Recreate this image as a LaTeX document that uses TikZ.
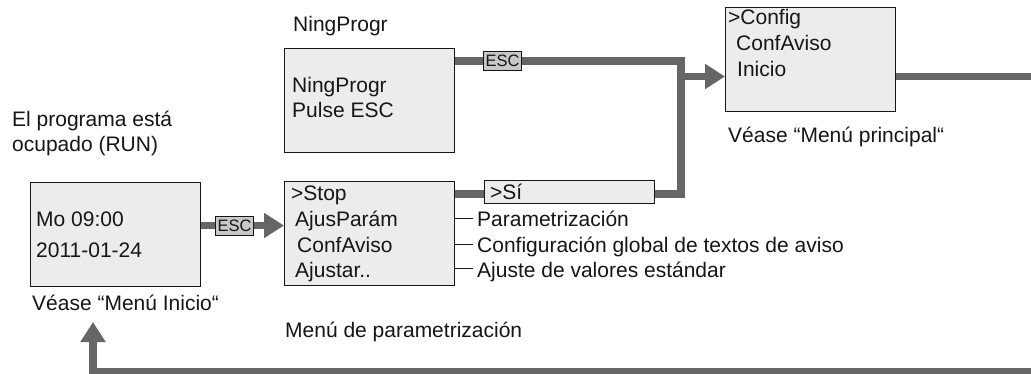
\documentclass[tikz,border=0pt]{standalone}
\usepackage{fontspec}
\setmainfont{Liberation Sans}
\usetikzlibrary{arrows.meta}
\definecolor{conncol}{HTML}{666666}
\definecolor{boxfill}{HTML}{ECECEC}
\definecolor{escfill}{HTML}{C8C8C8}
\definecolor{txt}{HTML}{161616}
\tikzset{
  lcd/.style={draw=txt, line width=1.1pt, fill=boxfill, minimum width=170pt, minimum height=104pt, inner sep=0pt, anchor=north west},
  sibox/.style={draw=txt, line width=1.1pt, fill=boxfill, minimum width=170pt, minimum height=23pt, inner sep=0pt, anchor=north west},
  esckey/.style={draw=txt, line width=0.9pt, fill=escfill, minimum width=38pt, minimum height=19pt, inner sep=0pt, font=\fontsize{16.5}{18}\selectfont, text=txt},
  lbl/.style={anchor=base west, inner sep=0pt, text=txt, font=\fontsize{21}{24}\selectfont},
  conn/.style={draw=conncol, line width=7.5pt, line join=miter},
  arr/.style={-{Triangle[length=20pt,width=24pt]}},
  tick/.style={draw=txt, line width=1.3pt}
}
\begin{document}
\begin{tikzpicture}[x=1pt,y=-1pt]
\clip (0,0) rectangle (1031,374);
\fill[white] (0,0) rectangle (1031,374);
% boxes
\node[lcd] (ning) at (284,48) {};
\node[lcd] (config) at (725,7) {};
\node[lcd] (mo) at (30,182) {};
\node[lcd] (stop) at (284,181) {};
\node[sibox] (si) at (484,180) {};
% esc keys
\node[esckey] (esca) at (502.5,61) {ESC};
\node[esckey] (escb) at (234.5,225.5) {ESC};
% coordinates
\coordinate (ja) at (681,61);
\coordinate (jb) at (681,194);
\coordinate (jc) at (681,76.5);
\coordinate (ra) at (1045,76.5);
\coordinate (rb) at (1045,372);
\coordinate (rc) at (93,372);
\coordinate (ret) at (93,322);
% connectors
\draw[conn] (ning.east |- esca) -- (esca.west);
\draw[conn] (esca.east) -- (ja) -- (jb) -- (si.east |- jb);
\draw[conn] (stop.east |- jb) -- (si.west |- jb);
\draw[conn,arr] (jc) -- (config.west |- jc);
\draw[conn] (mo.east |- escb) -- (escb.west);
\draw[conn,arr] (escb.east) -- (stop.west |- escb);
\draw[conn,arr] (config.east |- jc) -- (ra) -- (rb) -- (rc) -- (ret);
% texts
\node[lbl] (t1) at (293,32) {NingProgr};
\node[lbl] (t2) at (292,93) {NingProgr};
\node[lbl] (t3) at (292,118) {Pulse ESC};
\node[lbl] (t4) at (12,127) {El programa está};
\node[lbl] (t5) at (12,152) {ocupado (RUN)};
\node[lbl] (t6) at (36,227) {Mo 09:00};
\node[lbl] (t7) at (36,258) {2011-01-24};
\node[lbl] (t8) at (32,310) {Véase “Menú Inicio“};
\node[lbl] (t9) at (285,337) {Menú de parametrización};
\node[lbl] (s1) at (291,201) {>Stop};
\node[lbl] (s2) at (295,227) {AjusParám};
\node[lbl] (s3) at (297,253) {ConfAviso};
\node[lbl] (s4) at (295,277) {Ajustar..};
\node[lbl] (si1) at (490,200) {>Sí};
\node[lbl] (c1) at (728,25) {>Config};
\node[lbl] (c2) at (736,51) {ConfAviso};
\node[lbl] (c3) at (737,77) {Inicio};
\node[lbl] (c4) at (728,143) {Véase “Menú principal“};
\node[lbl] (p1) at (477,227) {Parametrización};
\node[lbl] (p2) at (477,253) {Configuración global de textos de aviso};
\node[lbl] (p3) at (477,277) {Ajuste de valores estándar};
\coordinate (q1) at ([yshift=8.5pt,xshift=-4pt]p1.base west);
\coordinate (q2) at ([yshift=8.5pt,xshift=-4pt]p2.base west);
\coordinate (q3) at ([yshift=8.5pt,xshift=-4pt]p3.base west);
\draw[tick] (stop.east |- q1) -- (q1);
\draw[tick] (stop.east |- q2) -- (q2);
\draw[tick] (stop.east |- q3) -- (q3);
\end{tikzpicture}
\end{document}
